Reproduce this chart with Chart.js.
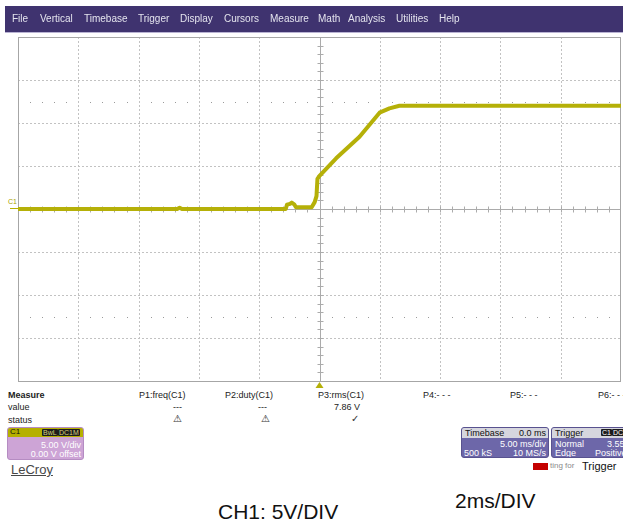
<!DOCTYPE html>
<html><head><meta charset="utf-8">
<script src="https://cdn.jsdelivr.net/npm/chart.js@4"></script>
<style>
html,body{margin:0;padding:0;background:#fff;}
#page{position:relative;width:623px;height:524px;overflow:hidden;font-family:"Liberation Sans",Arial,sans-serif;background:#fff;}
.t{position:absolute;white-space:nowrap;line-height:1;}
#menubar{position:absolute;left:5px;top:6px;width:618px;height:26px;background:#3f336f;border-bottom:1px solid #b9b3d3;}
.menu{position:absolute;top:14px;font-size:10px;color:#e4e4ee;line-height:10px;white-space:nowrap;z-index:3;}
.meas{font-size:9px;color:#222;}
#c1box{position:absolute;left:7px;top:427px;width:77px;height:33px;background:#cda4d6;border-radius:3px;overflow:hidden;border:1px solid #b58cc2;box-sizing:border-box;}
#c1head{position:absolute;left:0;top:0;width:100%;height:9px;background:#b5b000;}
.tag{position:absolute;top:1px;height:7px;background:#1c1c1c;color:#d6d27a;font-size:7px;line-height:7px;padding:0 1px;border-radius:1px;}
.pbox{position:absolute;top:427px;height:31px;background:#6d67a9;border-radius:3px;overflow:hidden;border:1px solid #58528f;box-sizing:border-box;}
.phead{position:absolute;left:0;top:0;width:100%;height:10px;background:#d6d6de;}
.wt{color:#fff;font-size:9px;}
.bk{color:#111;font-size:9px;}
</style>
</head>
<body>
<div id="page">
  <div id="menubar"></div>
  <div id="menus"></div>

  <div class="t" style="left:8px;top:198px;font-size:7px;color:#a8a200;">C1</div>
  <div style="position:absolute;left:10px;top:208px;width:8px;height:1px;background:#b5b000;"></div>

  <div id="measure"></div>

  <div id="c1box">
    <div id="c1head"></div>
    <div class="t bk" style="left:2px;top:0px;font-size:8px;">C1</div>
    <div class="tag" style="left:34px;">BwL</div>
    <div class="tag" style="left:50px;">DC1M</div>
    <div class="t wt" style="right:2px;top:13px;">5.00 V/div</div>
    <div class="t wt" style="right:2px;top:22px;">0.00 V offset</div>
  </div>

  <div class="t" style="left:11px;top:463px;font-size:13px;color:#474747;text-decoration:underline;">LeCroy</div>

  <div class="pbox" style="left:461px;width:88px;">
    <div class="phead"></div>
    <div class="t bk" style="left:3px;top:1px;">Timebase</div>
    <div class="t bk" style="right:2px;top:1px;">0.0 ms</div>
    <div class="t wt" style="right:2px;top:12px;">5.00 ms/div</div>
    <div class="t wt" style="left:2px;top:21px;">500 kS</div>
    <div class="t wt" style="right:2px;top:21px;">10 MS/s</div>
  </div>
  <div class="pbox" style="left:551px;width:80px;">
    <div class="phead"></div>
    <div class="t bk" style="left:3px;top:1px;">Trigger</div>
    <div class="tag" style="left:49px;top:1px;color:#fff;">C1</div>
    <div class="tag" style="left:60px;top:1px;color:#fff;">DC</div>
    <div class="t wt" style="left:3px;top:12px;">Normal</div>
    <div class="t wt" style="left:55px;top:12px;">3.55 V</div>
    <div class="t wt" style="left:3px;top:21px;">Edge</div>
    <div class="t wt" style="left:43px;top:21px;">Positive</div>
  </div>
  <div style="position:absolute;left:533px;top:463px;width:15px;height:7px;background:#c40000;"></div>
  <div class="t" style="left:550px;top:462px;font-size:8px;color:#8a8a8a;">ting for</div>
  <div class="t" style="left:582px;top:461px;font-size:11px;color:#111;">Trigger</div>

  <div class="t" style="left:218px;top:501px;font-size:21px;color:#111;">CH1: 5V/DIV</div>
  <div class="t" style="left:455px;top:490px;font-size:21px;color:#111;">2ms/DIV</div>

  <canvas id="c" width="623" height="524" style="position:absolute;left:0;top:0;z-index:2;"></canvas>
</div>
<script>
// ---------- data ----------
const menuItems = ["File","Vertical","Timebase","Trigger","Display","Cursors","Measure","Math","Analysis","Utilities","Help"];
const menuLeft  = [12,40,84,138,180,224,270,318,348,396,439];

const timeMs  = [-25, -18, -11.8, -11.6, -11.4, -6, -2.8, -2.7, -2.45, -2.3, -2.1, -1.95, -0.65, -0.4, -0.25, -0.17, 0, 1.38, 3.32, 4.98, 5.8, 6.63, 10, 25];
const voltsC1 = [0, 0, 0, 0.15, 0, 0, 0, 0.5, 0.6, 0.75, 0.55, 0.2, 0.2, 0.8, 1.5, 3.5, 3.85, 5.9, 8.4, 11.2, 11.7, 12.0, 12.0, 12.0];

const xGridMs = [-25,-20,-15,-10,-5,0,5,10,15,20,25];   // 5 ms/div
const yGridV  = [-20,-15,-10,-5,0,5,10,15,20];          // 5 V/div
const dotRowsV = [12.5, -12.5];

const measHeaders = ["P1:freq(C1)","P2:duty(C1)","P3:rms(C1)","P4:- - -","P5:- - -","P6:- - -"];
const measLeft    = [139,225,318,423,510,598];
const measValues  = ["---","---","7.86 V"];
const measValRight= [182,267,360];
const measStatus  = ["⚠","⚠","✓"];
const measStatLeft= [173,261,351];

// ---------- static text ----------
const menus = document.getElementById('menus');
menuItems.forEach((m,i)=>{
  const d=document.createElement('div'); d.className='menu'; d.style.left=menuLeft[i]+'px'; d.textContent=m; menus.appendChild(d);
});
const ms = document.getElementById('measure');
function addT(txt, style, cls){
  const d=document.createElement('div'); d.className='t meas '+(cls||''); d.textContent=txt;
  Object.assign(d.style, style); ms.appendChild(d);
}
addT("Measure",{left:'8px',top:'391px',fontWeight:'bold'});
addT("value",{left:'8px',top:'403px'});
addT("status",{left:'8px',top:'416px'});
measHeaders.forEach((h,i)=>addT(h,{left:measLeft[i]+'px',top:'391px'}));
measValues.forEach((v,i)=>addT(v,{left:(measValRight[i]-60)+'px',width:'60px',textAlign:'right',top:'403px'}));
measStatus.forEach((s,i)=>addT(s,{left:measStatLeft[i]+'px',top:'414px',fontFamily:'DejaVu Sans',fontSize:'10px',fontWeight:'bold',color:'#333'}));

// ---------- chart ----------
const TRACE = 'rgb(181,176,8)';
const scopeGrid = {
  id:'scopeGrid',
  beforeDatasetsDraw(chart){
    const {ctx, chartArea:a, scales:{x,y}} = chart;
    ctx.save();
    ctx.lineWidth=1;
    ctx.strokeStyle='#c2c2c2';
    ctx.setLineDash([2,2]);
    xGridMs.forEach(v=>{
      if(v===0||v===x.min||v===x.max) return;
      const px=Math.round(x.getPixelForValue(v))+0.5;
      ctx.beginPath(); ctx.moveTo(px,a.top); ctx.lineTo(px,a.bottom); ctx.stroke();
    });
    yGridV.forEach(v=>{
      if(v===0||v===y.min||v===y.max) return;
      const py=Math.round(y.getPixelForValue(v))+0.5;
      ctx.beginPath(); ctx.moveTo(a.left,py); ctx.lineTo(a.right,py); ctx.stroke();
    });
    ctx.setLineDash([]);
    // dotted rows
    ctx.fillStyle='#9a9a9a';
    const minorX = 1; // 1/5 division
    dotRowsV.forEach(v=>{
      const py=Math.round(y.getPixelForValue(v));
      for(let t=x.min+minorX;t<x.max;t+=minorX){
        if(Math.abs(t%5)<1e-6) continue;
        ctx.fillRect(Math.round(x.getPixelForValue(t)),py,1,1);
      }
    });
    // center axes with minor ticks
    ctx.strokeStyle='#ababab';
    const cx=Math.round(x.getPixelForValue(0))+0.5, cy=Math.round(y.getPixelForValue(0))+0.5;
    ctx.beginPath(); ctx.moveTo(cx,a.top); ctx.lineTo(cx,a.bottom); ctx.moveTo(a.left,cy); ctx.lineTo(a.right,cy); ctx.stroke();
    ctx.beginPath();
    for(let t=x.min+1;t<x.max;t+=1){
      const px=Math.round(x.getPixelForValue(t))+0.5;
      ctx.moveTo(px,cy-3); ctx.lineTo(px,cy+3);
    }
    for(let v=y.min+1;v<y.max;v+=1){
      const py=Math.round(y.getPixelForValue(v))+0.5;
      ctx.moveTo(cx-3,py); ctx.lineTo(cx+3,py);
    }
    ctx.stroke();
    // frame
    ctx.strokeStyle='#a6a6a6';
    ctx.strokeRect(Math.round(a.left)+0.5, Math.round(a.top)+0.5, Math.round(a.width)-1, Math.round(a.height));
    ctx.restore();
  },
  afterDraw(chart){
    const {ctx, chartArea:a, scales:{x}} = chart;
    const px=x.getPixelForValue(0);
    ctx.save();
    ctx.fillStyle=TRACE;
    ctx.beginPath(); ctx.moveTo(px, a.bottom+1); ctx.lineTo(px+4,a.bottom+7); ctx.lineTo(px-4,a.bottom+7); ctx.closePath(); ctx.fill();
    ctx.restore();
  }
};

new Chart(document.getElementById('c'), {
  type:'line',
  data:{ datasets:[{
    data: timeMs.map((t,i)=>({x:t,y:voltsC1[i]})),
    borderColor: TRACE, borderWidth:4, pointRadius:0, tension:0, fill:false,
    borderJoinStyle:'round', borderCapStyle:'round'
  }]},
  options:{
    responsive:false, animation:false, devicePixelRatio:1,
    layout:{padding:{left:18,top:37,right:2,bottom:143}},
    plugins:{legend:{display:false},tooltip:{enabled:false},title:{display:false}},
    scales:{
      x:{type:'linear',min:-25,max:25,display:false},
      y:{type:'linear',min:-20,max:20,display:false}
    }
  },
  plugins:[scopeGrid]
});
</script>
</body></html>
